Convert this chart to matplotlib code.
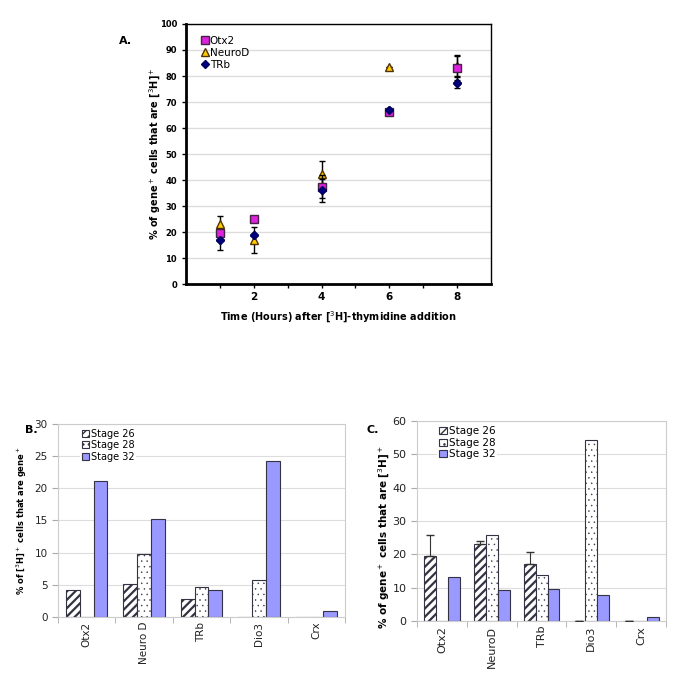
import numpy as np
import matplotlib as mpl
import matplotlib.pyplot as plt
from matplotlib.ticker import FixedLocator
from matplotlib.lines import Line2D

# --- data, panel A
hours = [1, 2, 4, 6, 8]
otx2_a = [19.5, 25.0, 37.5, 66.0, 83.0]
neurod_a = [23.0, 17.0, 42.5, 83.5, 84.0]
trb_a = [17.0, 19.0, 36.0, 67.0, 77.5]
otx2_err = [0, 0, 4.5, 0, 4.5]
neurod_err = [3.0, 5.0, 5.0, 0, 4.0]
trb_err = [4.0, 0, 4.5, 0, 2.0]

# --- data, panels B and C
genes_b = ['Otx2', 'Neuro D', 'TRb', 'Dio3', 'Crx']
b_st26 = [4.2, 5.1, 2.8, 0, 0]
b_st28 = [0, 9.8, 4.7, 5.8, 0]
b_st32 = [21.2, 15.3, 4.2, 24.2, 0.9]

genes_c = ['Otx2', 'NeuroD', 'TRb', 'Dio3', 'Crx']
c_st26 = [19.5, 23.2, 17.0, 0, 0]
c_st26_err = [6.3, 0.8, 3.8, 0, 0]
c_st28 = [0, 25.8, 13.7, 54.2, 0]
c_st32 = [13.2, 9.2, 9.5, 7.9, 1.2]

stages = ['Stage 26', 'Stage 28', 'Stage 32']

fig = plt.figure(figsize=(6.85, 6.74), dpi=100)

"""
Panel A - scatter with error bars
"""
ax = fig.add_axes([0.2715, 0.5786, 0.4453, 0.3858])
ax.set_xlim(0, 9)
ax.set_ylim(0, 100)
ax.yaxis.grid(True, color='#dddddd', lw=1)
ax.set_axisbelow(True)

sty = {
    'Otx2': dict(marker='s', ms=6, mfc='#dd22dd', mec='#442244'),
    'NeuroD': dict(marker='^', ms=6, mfc='#ffcc00', mec='#553300'),
    'TRb': dict(marker='D', ms=4.5, mfc='#000080', mec='#000060'),
}
ebkw = dict(ecolor='black', elinewidth=1, capsize=2.5, capthick=1, ls='none')
ax.errorbar(hours, trb_a, yerr=trb_err, zorder=3, **sty['TRb'], **ebkw)
ax.errorbar(hours, otx2_a, yerr=otx2_err, zorder=4, **sty['Otx2'], **ebkw)
ax.errorbar(hours, neurod_a, yerr=neurod_err, zorder=2, **sty['NeuroD'], **ebkw)
ax.plot(hours, trb_a, ls='none', zorder=5, **sty['TRb'])

handles = [Line2D([], [], ls='none', **sty[k]) for k in ['Otx2', 'NeuroD', 'TRb']]
ax.legend(handles, ['Otx2', 'NeuroD', 'TRb'], loc='upper left',
          frameon=False, fontsize=7.5, handlelength=0.6, handletextpad=0.2,
          borderpad=0.4, labelspacing=0.2, bbox_to_anchor=(0.02, 0.99))

ax.xaxis.set_major_locator(FixedLocator([2, 4, 6, 8]))
ax.xaxis.set_minor_locator(FixedLocator([1, 3, 5, 7]))
ax.set_yticks(np.arange(0, 101, 10))
ax.tick_params(axis='both', which='both', direction='out', length=3, width=1)
for lab in ax.get_xticklabels() + ax.get_yticklabels():
    lab.set_fontweight('bold')
ax.tick_params(axis='x', labelsize=7.5, pad=3)
ax.tick_params(axis='y', labelsize=6)
for s in ['left', 'bottom']:
    ax.spines[s].set_linewidth(2)
for s in ['top', 'right']:
    ax.spines[s].set_linewidth(1)
ax.set_ylabel('% of gene$^+$ cells that are [$^3$H]$^+$', fontsize=7,
              fontweight='bold')
ax.yaxis.set_label_coords(-0.075, 0.5)
ax.set_xlabel('Time (Hours) after [$^3$H]-thymidine addition', fontsize=7,
              fontweight='bold', labelpad=5)


"""
Panels B and C - grouped bars
"""
def bar_panel(rect, genes, s26, s28, s32, ymax, ystep, err=None, ylabel='',
              ylabel_size=6.5, tick_size=8, leg_size=7):
    ax = fig.add_axes(rect)
    x = np.arange(len(genes))
    w = 0.24
    edge = '#333344'
    with mpl.rc_context({'hatch.linewidth': 1.6}):
        ax.bar(x - w, s26, w, color='white', edgecolor=edge, hatch='////',
               lw=0.8, label=stages[0], zorder=2)
    if err is not None:
        ax.errorbar(x - w, s26, yerr=[np.zeros(len(err)), err], fmt='none',
                    ecolor='#333333', elinewidth=0.8, capsize=3, zorder=3)
    with mpl.rc_context({'hatch.linewidth': 0.3}):
        ax.bar(x, s28, w, color='white', edgecolor=edge, hatch='...',
               lw=0.8, label=stages[1], zorder=2)
    ax.bar(x + w, s32, w, color='#9999ff', edgecolor=edge,
           lw=0.8, label=stages[2], zorder=2)
    ax.set_xlim(-0.5, len(genes) - 0.5)
    ax.set_ylim(0, ymax)
    ax.set_yticks(np.arange(0, ymax + 1, ystep))
    ax.yaxis.grid(True, color='#dddddd', lw=0.8)
    ax.set_axisbelow(True)
    ax.set_xticks(x)
    ax.set_xticklabels(genes, rotation=90)
    ax.tick_params(axis='both', labelsize=tick_size, color='#aaaaaa', length=4,
                   labelcolor='#222222')
    ax.tick_params(axis='x', length=0)
    ax.set_xticks(np.arange(len(genes) + 1) - 0.5, minor=True)
    ax.tick_params(axis='x', which='minor', length=4, color='#aaaaaa')
    for s in ax.spines.values():
        s.set_color('#cccccc')
        s.set_linewidth(0.8)
    ax.set_ylabel(ylabel, fontsize=ylabel_size, fontweight='bold')
    ax.legend(loc='upper left', fontsize=leg_size, handlelength=0.7,
              handleheight=0.7, handletextpad=0.2, labelspacing=0.15,
              borderpad=0.2, framealpha=1, edgecolor='none',
              fancybox=False, bbox_to_anchor=(0.06, 1.01))
    return ax


axb = bar_panel([0.0847, 0.0846, 0.419, 0.2864], genes_b, b_st26, b_st28,
                b_st32, 30, 5, ylabel='% of [$^3$H]$^+$ cells that are gene$^+$',
                ylabel_size=6, tick_size=7.5, leg_size=7)
axc = bar_panel([0.6088, 0.0786, 0.3635, 0.2967], genes_c, c_st26, c_st28,
                c_st32, 60, 10, err=c_st26_err,
                ylabel='% of gene$^+$ cells that are [$^3$H]$^+$',
                ylabel_size=7.5, tick_size=8, leg_size=7.5)
axc.yaxis.set_label_coords(-0.10, 0.42)

fig.text(0.173, 0.934, 'A.', fontsize=8, fontweight='bold')
fig.text(0.036, 0.357, 'B.', fontsize=8, fontweight='bold')
fig.text(0.535, 0.357, 'C.', fontsize=8, fontweight='bold')

fig.savefig('out.png', dpi=100)
